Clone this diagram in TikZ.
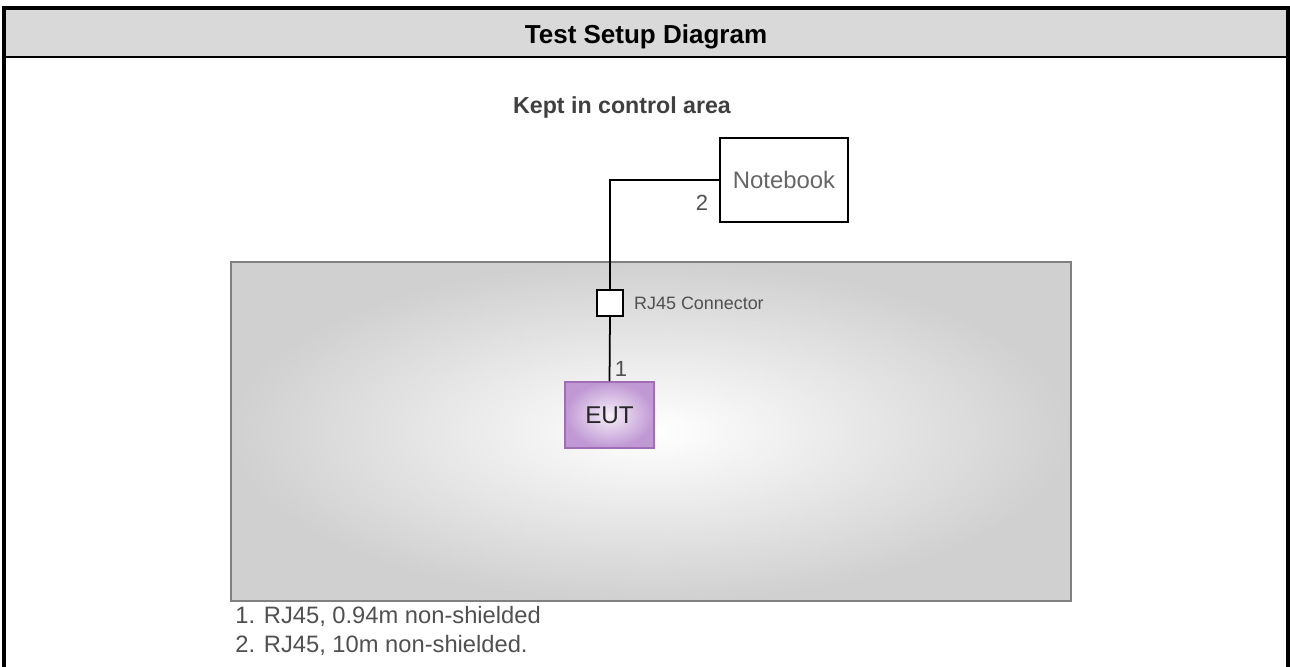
\documentclass[tikz,border=0pt]{standalone}
\usepackage{fontspec}
\setmainfont{Liberation Sans}
\usepackage{xcolor}
\definecolor{headgray}{RGB}{217,217,217}
\definecolor{areaedge}{RGB}{128,128,128}
\definecolor{areagray}{RGB}{208,208,208}
\definecolor{textgray}{RGB}{80,80,80}
\definecolor{eutedge}{RGB}{160,110,180}
\definecolor{eutfill}{RGB}{192,152,212}
\usetikzlibrary{positioning,shadings}

\begin{document}
\begin{tikzpicture}[x=0.02cm,y=-0.02cm]
  \tikzstyle{device}=[rectangle,draw=black,line width=1pt,fill=white,minimum width=2.56cm,minimum height=1.68cm,inner sep=0pt]
  \tikzstyle{plug}=[rectangle,draw=black,line width=1pt,fill=white,minimum width=0.52cm,minimum height=0.52cm,inner sep=0pt]
  \tikzstyle{eutbox}=[rectangle,draw=eutedge,line width=1pt,inner color=white!85!eutfill,outer color=eutfill,minimum width=1.78cm,minimum height=1.32cm,inner sep=0pt]
  \tikzstyle{cable}=[draw=black,line width=1pt]
  \tikzstyle{cableno}=[text=textgray,font=\fontsize{12.5}{14}\selectfont,inner sep=0pt]
  \tikzstyle{note}=[anchor=base west,font=\fontsize{13.5}{16}\selectfont,text=textgray,inner sep=0pt]

  \useasboundingbox (0,0) rectangle (1290,666);

  % frame and header
  \fill[headgray] (4,8) rectangle (1288,57);
  \draw[line width=1.3pt] (4,57) -- (1288,57);
  \draw[line width=2.2pt] (4,680) -- (4,8) -- (1288,8) -- (1288,680);
  \node[anchor=base,font=\bfseries\fontsize{14.8}{17}\selectfont,inner sep=0pt] (title) at (646,43) {Test Setup Diagram};

  % control area
  \node[anchor=base,font=\bfseries\fontsize{13.2}{15}\selectfont,text=black!75,inner sep=0pt] (kept) at (622,113) {Kept in control area};
  \node[rectangle,draw=areaedge,line width=1.2pt,inner color=white,outer color=areagray,minimum width=16.8cm,minimum height=6.78cm,inner sep=0pt] (area) at (651,431.5) {};

  \node[device,font=\fontsize{13.6}{16}\selectfont,text=black!60] (notebook) at (784,180) {Notebook};
  \node[plug] (rj45) at (610,303) {};
  \node[right=0.2cm of rj45,font=\fontsize{10.2}{12}\selectfont,text=textgray,inner sep=0pt] (rj45label) {RJ45 Connector};
  \node[eutbox,font=\fontsize{13.8}{16}\selectfont,text=black!85] (eut) at (609.5,415) {EUT};

  \draw[cable] (notebook.west) -| (rj45.north);
  \draw[cable] (rj45.south) -- (eut.north);
  \node[cableno] (no2) at (702,203) {2};
  \node[cableno] (no1) at (621,369) {1};

  % cable list
  \node[note] (note1) at (235,623) {1. RJ45, 0.94m non-shielded};
  \node[note] (note2) at (235,652) {2. RJ45, 10m non-shielded.};
\end{tikzpicture}
\end{document}
